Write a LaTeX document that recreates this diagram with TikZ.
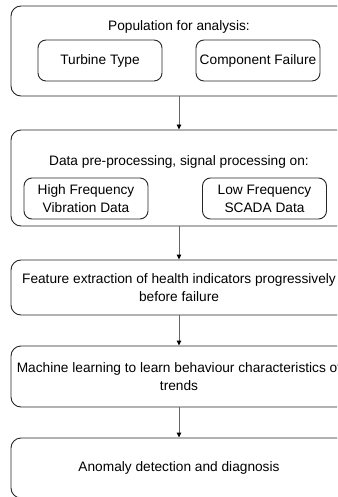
\documentclass[tikz,border=0pt]{standalone}
\usepackage{fontspec}
\setmainfont{Liberation Sans}
\usetikzlibrary{arrows.meta,positioning}
\tikzstyle{every picture}+=[x=1pt,y=-1pt]
\tikzstyle{every picture}+=[line width=0.9pt]
\tikzstyle{every picture}+=[>={Triangle[length=5pt,width=4.5pt,color=black]}]
\tikzstyle{every picture}+=[font=\fontsize{13.7}{18}\selectfont]
\tikzstyle{stage}=[draw=black!85, rounded corners=10pt, fill=white]
\tikzstyle{stage}+=[minimum width=336pt, inner sep=0pt, align=center]
\tikzstyle{part}=[draw=black!85, rounded corners=8pt, fill=white]
\tikzstyle{part}+=[minimum width=124pt, minimum height=41pt, inner sep=0pt, align=center]
\tikzstyle{caption}=[inner sep=0pt]
\tikzstyle{flow}=[->, draw=black!60]

\begin{document}
\begin{tikzpicture}
\useasboundingbox (0,0) rectangle (337,497);
\clip (0,0) rectangle (337,497);
\fill[white] (0,0) rectangle (337,497);

% population
\node[stage] (pop) at (179,51) [minimum height=90pt] {};
\node[caption] (poptitle) at (179,27) {Population for analysis:};
\node[part] (turbine) at (100,60.5) {Turbine Type};
\node[part] (failure) at (258,60.5) {Component Failure};

% pre-processing
\node[stage] (prep) at (179,178) [minimum height=96pt] {};
\node[caption] (preptitle) at (179,162) {Data pre-processing, signal processing on:};
\node[part] (hf) at (86,198.5) {High Frequency\\Vibration Data};
\node[part] (lf) at (264.5,198.5) {Low Frequency\\SCADA Data};

% remaining stages
\node[stage] (feat) at (179,287.5) [minimum height=55pt]
  {Feature extraction of health indicators progressively\\before failure};
\node[stage] (learn) at (179,376.5) [minimum height=61pt]
  {Machine learning to learn behaviour characteristics of\\trends};
\node[stage] (anom) at (179,468) [minimum height=60pt]
  {Anomaly detection and diagnosis};

\path[flow]
   (pop) edge (prep)
   (prep) edge (feat)
   (feat) edge (learn)
   (learn) edge (anom)
;
\end{tikzpicture}
\end{document}
